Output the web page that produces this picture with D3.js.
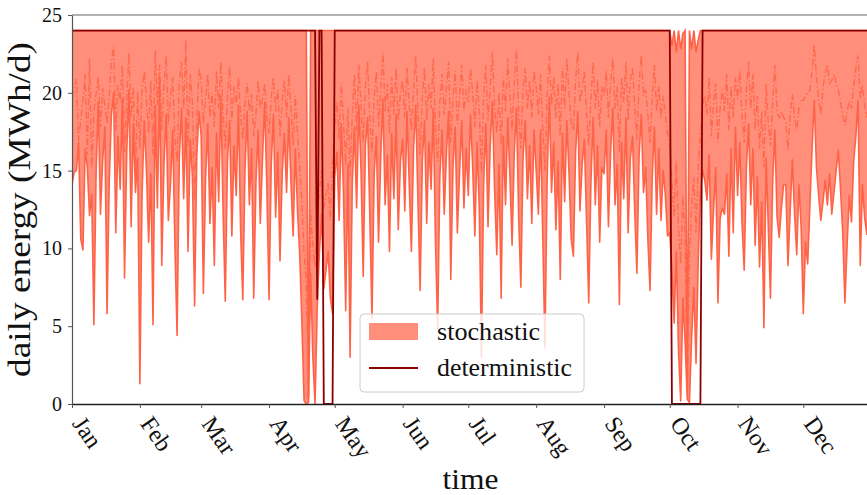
<!DOCTYPE html>
<html>
<head>
<meta charset="utf-8">
<script src="https://cdn.jsdelivr.net/npm/d3@7"></script>
<style>
  body { margin: 0; background: #fff; }
  text { font-family: "Liberation Serif", "Times New Roman", serif; fill: #111; }
</style>
</head>
<body>
<svg id="chart" width="867" height="495"></svg>
<script>
// month ticks
const months = ["Jan", "Feb", "Mar", "Apr", "May", "Jun", "Jul", "Aug", "Sep", "Oct", "Nov", "Dec"];
const monthStart = [0, 31, 59, 90, 120, 151, 181, 212, 243, 273, 304, 334];
const yTicks = [0, 5, 10, 15, 20, 25];

// stochastic: daily minimum over scenarios (MWh/d)
const stochLow = [
  14.1,14.9,15.0,16.8,10.6,9.9,16.4,15.2,12.1,13.5,5.1,14.8,19.4,12.2,15.6,17.8,5.8,14.2,18.6,20.0,11.0,17.2,13.8,19.6,8.1,16.2,20.2,11.4,18.0,13.6,15.8, // Jan
  1.3,13.5,18.2,15.0,10.4,14.8,5.1,19.2,12.6,20.8,8.9,15.4,18.6,11.8,14.2,17.6,10.2,4.4,15.8,19.0,13.2,18.4,9.8,17.0,14.6,6.3,16.0,18.8, // Feb
  17.2,7.1,14.4,18.0,11.6,15.2,8.9,17.4,13.0,19.8,12.4,6.6,15.6,18.2,10.8,16.6,13.4,19.2,11.2,6.7,15.0,18.8,12.8,16.4,6.8,14.2,17.6,11.6,15.8,19.4,13.8, // Mar
  6.7,15.4,18.6,12.0,16.2,9.2,14.8,17.4,13.6,18.4,14.2,10.8,16.4,12.4,9.6,5.2,0.2,0.0,0.1,8.4,3.0,0.0,6.2,9.8,12.2,7.4,8.6,9.8,6.8,5.8, // Apr
  14.6,16.2,11.8,18.0,13.6,6.0,15.4,3.0,14.2,17.8,12.6,19.2,15.0,8.2,16.6,18.4,12.2,5.5,14.8,17.2,10.4,15.8,19.6,12.8,16.0,9.8,17.4,13.2,18.6,11.2,15.6, // May
  17.0,12.4,18.8,14.2,9.8,16.4,19.2,13.0,7.3,15.6,18.2,11.6,16.8,13.8,19.0,10.4,4.8,14.6,17.6,12.2,16.0,18.8,8.0,15.2,17.8,11.0,14.8,18.2,12.6,16.4, // Jun
  13.4,18.6,15.2,10.8,16.8,12.6,3.0,14.2,18.0,11.4,16.6,19.4,13.8,9.6,15.4,6.8,17.2,12.8,18.4,14.6,10.2,16.2,19.0,12.0,7.5,15.8,18.2,13.2,16.6,11.6,17.6, // Jul
  15.0,12.2,17.6,10.8,3.6,14.4,19.7,13.6,16.8,11.2,15.6,8.0,17.4,13.0,18.2,14.8,10.6,9.5,16.2,18.8,12.4,15.4,17.0,11.8,6.5,14.2,18.4,12.8,16.6,10.4,15.2, // Aug
  14.8,17.6,11.4,16.2,19.0,12.8,15.4,6.4,16.8,13.2,18.4,11.0,15.8,17.2,12.4,8.4,16.0,18.6,13.6,15.2,10.6,7.3,14.6,17.8,12.2,16.4,11.8,15.0,13.4,10.8, // Sep
  11.0,8.6,5.2,9.8,3.4,0.2,6.8,4.0,0.3,0.1,4.3,7.5,2.6,9.2,13.6,15.0,14.4,13.1,16.0,9.3,12.4,15.2,6.5,11.9,12.6,12.2,14.8,9.5,16.4,11.0,17.8, // Oct
  13.4,16.8,11.6,8.6,15.2,18.0,12.8,16.4,10.2,14.6,8.8,13.0,4.9,15.8,11.4,6.8,14.2,17.6,12.0,10.7,12.6,14.1,14.1,8.9,12.4,15.7,12.2,9.6,14.1,11.4, // Nov
  5.8,10.4,9.0,12.7,16.4,19.5,15.2,13.4,11.8,13.0,14.4,12.8,14.8,12.2,13.6,15.0,16.3,13.8,11.0,6.5,10.2,13.4,11.7,15.6,17.2,19.5,8.9,14.1,12.0,10.9,13.2  // Dec
];

// stochastic: daily mean over scenarios (dash-dot)
const stochMean = [
  19.7,20.3,20.9,16.9,18.2,19.5,21.2,16.0,22.2,15.2,18.8,19.9,21.0,17.8,20.3,19.2,18.0,19.8,22.0,23.0,17.6,20.5,19.4,21.8,16.2,19.6,22.6,18.4,20.4,14.8,20.1, // Jan
  16.4,20.2,21.4,19.6,17.4,20.8,16.0,22.7,19.2,21.8,17.6,20.4,22.4,18.0,19.8,21.0,17.2,15.6,20.6,22.0,19.0,23.4,16.6,21.2,19.4,13.1,18.2,21.6, // Feb
  20.8,18.0,19.6,21.2,18.4,20.0,17.8,21.4,19.0,22.0,18.6,16.4,19.8,21.7,18.2,20.4,19.2,21.0,18.6,17.0,19.4,20.6,18.8,19.9,17.2,18.6,20.8,19.0,19.6,20.6,18.4, // Mar
  17.4,19.6,21.0,18.8,20.2,17.2,19.4,20.8,18.4,21.2,19.0,16.6,19.8,17.4,15.2,13.0,9.6,8.0,0.3,12.4,10.2,8.8,11.6,13.8,15.0,12.6,13.4,14.2,11.8,15.6, // Apr
  17.8,19.4,17.0,20.6,18.2,15.4,19.0,14.6,18.6,21.2,17.6,21.8,19.2,16.8,20.4,22.0,18.4,16.2,19.6,21.4,17.8,20.2,22.6,18.8,20.6,17.4,21.0,18.6,21.6,18.2,20.0, // May
  20.8,18.4,21.6,19.2,17.6,20.2,22.4,18.8,16.0,19.8,21.6,18.2,20.6,19.0,22.2,17.8,15.6,19.4,21.2,18.6,20.4,22.0,16.8,19.6,21.4,18.0,19.8,21.8,18.8,20.2, // Jun
  19.4,21.6,20.0,17.8,20.8,19.0,14.8,19.6,21.8,18.2,20.4,22.6,19.2,17.4,20.0,16.6,21.0,18.8,22.2,19.8,17.6,20.6,22.8,18.6,16.4,20.2,21.6,19.0,20.8,18.4,21.4, // Jul
  20.4,18.6,21.2,17.8,15.0,19.8,22.4,19.2,21.0,18.4,20.6,17.2,21.6,19.0,22.2,20.0,18.0,17.6,20.8,22.6,19.4,20.2,21.4,18.6,16.6,19.6,22.0,19.0,20.8,17.8,20.4, // Aug
  19.8,21.4,18.4,20.6,22.2,19.0,20.4,16.2,21.0,19.4,22.0,18.2,20.8,21.6,19.2,17.0,20.6,22.4,19.8,20.2,18.6,16.8,19.6,21.8,18.8,20.4,18.4,19.8,18.6,17.4, // Sep
  16.8,14.2,12.0,15.6,11.2,9.0,13.4,10.6,0.6,9.6,12.8,14.6,11.0,15.2,17.4,19.2,19.8,18.6,21.0,17.2,19.4,20.6,16.8,19.0,20.2,18.8,21.2,17.6,20.4,18.4,21.0, // Oct
  19.6,21.4,18.6,16.8,20.2,22.0,19.0,21.2,17.6,19.8,16.4,18.8,15.2,20.6,18.0,16.6,19.4,21.8,18.8,18.4,18.8,18.4,18.2,16.3,18.6,19.9,18.4,17.6,19.0,19.5, // Nov
  19.5,19.8,20.0,20.2,21.4,23.1,21.0,19.6,18.6,20.4,21.2,21.8,20.6,20.8,21.2,20.6,20.2,19.4,18.6,17.9,18.8,19.5,19.0,20.4,21.6,22.4,19.6,20.5,19.2,18.4,19.8  // Dec
];

// stochastic: daily maximum over scenarios
const stochHigh = [
  24,24,24,24,24,24,24,24,24,24,24,24,24,24,24,24,24,24,24,24,24,24,24,24,24,24,24,24,24,24,24, // Jan
  24,24,24,24,24,24,24,24,24,24,24,24,24,24,24,24,24,24,24,24,24,24,24,24,24,24,24,24, // Feb
  24,24,24,24,24,24,24,24,24,24,24,24,24,24,24,24,24,24,24,24,24,24,24,24,24,24,24,24,24,24,24, // Mar
  24,24,24,24,24,24,24,24,24,24,24,24,24,24,24,24,24,24,0.4,24,24,24,24,24,24,24,24,24,24,24, // Apr
  24,24,24,24,24,24,24,24,24,24,24,24,24,24,24,24,24,24,24,24,24,24,24,24,24,24,24,24,24,24,24, // May
  24,24,24,24,24,24,24,24,24,24,24,24,24,24,24,24,24,24,24,24,24,24,24,24,24,24,24,24,24,24, // Jun
  24,24,24,24,24,24,24,24,24,24,24,24,24,24,24,24,24,24,24,24,24,24,24,24,24,24,24,24,24,24,24, // Jul
  24,24,24,24,24,24,24,24,24,24,24,24,24,24,24,24,24,24,24,24,24,24,24,24,24,24,24,24,24,24,24, // Aug
  24,24,24,24,24,24,24,24,24,24,24,24,24,24,24,24,24,24,24,24,24,24,24,24,24,24,24,24,24,24, // Sep
  24,23.0,24,22.6,24,22.8,23.8,24,1.0,24,22.8,24,22.6,23.4,24,24,24,24,24,24,24,24,24,24,24,24,24,24,24,24,24, // Oct
  24,24,24,24,24,24,24,24,24,24,24,24,24,24,24,24,24,24,24,24,24,24,24,24,24,24,24,24,24,24, // Nov
  24,24,24,24,24,24,24,24,24,24,24,24,24,24,24,24,24,24,24,24,24,24,24,24,24,24,24,24,24,24,24  // Dec
];

// deterministic run
const deterministic = [
  24,24,24,24,24,24,24,24,24,24,24,24,24,24,24,24,24,24,24,24,24,24,24,24,24,24,24,24,24,24,24, // Jan
  24,24,24,24,24,24,24,24,24,24,24,24,24,24,24,24,24,24,24,24,24,24,24,24,24,24,24,24, // Feb
  24,24,24,24,24,24,24,24,24,24,24,24,24,24,24,24,24,24,24,24,24,24,24,24,24,24,24,24,24,24,24, // Mar
  24,24,24,24,24,24,24,24,24,24,24,24,24,24,24,24,24,24,24,24,24,24,6.7,24,24,0,0,0,0,0, // Apr
  24,24,24,24,24,24,24,24,24,24,24,24,24,24,24,24,24,24,24,24,24,24,24,24,24,24,24,24,24,24,24, // May
  24,24,24,24,24,24,24,24,24,24,24,24,24,24,24,24,24,24,24,24,24,24,24,24,24,24,24,24,24,24, // Jun
  24,24,24,24,24,24,24,24,24,24,24,24,24,24,24,24,24,24,24,24,24,24,24,24,24,24,24,24,24,24,24, // Jul
  24,24,24,24,24,24,24,24,24,24,24,24,24,24,24,24,24,24,24,24,24,24,24,24,24,24,24,24,24,24,24, // Aug
  24,24,24,24,24,24,24,24,24,24,24,24,24,24,24,24,24,24,24,24,24,24,24,24,24,24,24,24,24,24, // Sep
  24,0,0,0,0,0,0,0,0,0,0,0,0,0,0,24,24,24,24,24,24,24,24,24,24,24,24,24,24,24,24, // Oct
  24,24,24,24,24,24,24,24,24,24,24,24,24,24,24,24,24,24,24,24,24,24,24,24,24,24,24,24,24,24, // Nov
  24,24,24,24,24,24,24,24,24,24,24,24,24,24,24,24,24,24,24,24,24,24,24,24,24,24,24,24,24,24,24  // Dec
];

const svg = d3.select("#chart");
const W = 867;
const mLeft = 72, mRight = 869, mTop = 15, mBottom = 404;

const x = d3.scaleLinear().domain([0, 364]).range([mLeft, mRight]);
const y = d3.scaleLinear().domain([0, 25]).range([mBottom, mTop]);

const tomato = "#ff6347";

svg.append("defs").append("clipPath").attr("id", "plot")
    .append("rect")
    .attr("x", mLeft).attr("y", mTop - 2)
    .attr("width", mRight - mLeft).attr("height", mBottom - mTop + 4);

const plot = svg.append("g").attr("clip-path", "url(#plot)");

// band between min and max
const band = d3.area()
    .x((d, i) => x(i))
    .y0((d, i) => y(stochLow[i]))
    .y1((d, i) => y(stochHigh[i]));

plot.append("path")
    .datum(stochLow)
    .attr("d", band)
    .style("fill", tomato)
    .style("fill-opacity", 0.72);

const line = d3.line().x((d, i) => x(i)).y(d => y(d));

plot.append("path")
    .datum(stochLow)
    .attr("d", line)
    .style("fill", "none")
    .style("stroke", tomato)
    .style("stroke-width", 1.6)
    .style("stroke-linejoin", "round");

plot.append("path")
    .datum(stochHigh)
    .attr("d", line)
    .style("fill", "none")
    .style("stroke", tomato)
    .style("stroke-width", 1.6);

plot.append("path")
    .datum(stochMean)
    .attr("d", line)
    .style("fill", "none")
    .style("stroke", tomato)
    .style("stroke-opacity", 0.85)
    .style("stroke-width", 1.4)
    .style("stroke-dasharray", "7,2.4,1.5,2.4");

plot.append("path")
    .datum(deterministic)
    .attr("d", line)
    .style("fill", "none")
    .style("stroke", "#8b0000")
    .style("stroke-width", 1.8);

// top spine
svg.append("line")
    .attr("x1", mLeft).attr("x2", W).attr("y1", mTop).attr("y2", mTop)
    .style("stroke", "#666").style("stroke-width", 1.1);

// y axis
const yAxis = svg.append("g")
    .attr("transform", `translate(${mLeft},0)`)
    .call(d3.axisLeft(y).tickValues(yTicks).tickSize(4).tickPadding(6).tickSizeOuter(0));
yAxis.select(".domain").style("stroke", "#555").style("stroke-width", 1.2);
yAxis.selectAll(".tick line").style("stroke", "#555");
yAxis.selectAll(".tick text")
    .style("font-size", "20px")
    .style("font-family", "'Liberation Serif', serif")
    .style("fill", "#111");

// x axis
const xAxis = svg.append("g")
    .attr("transform", `translate(0,${mBottom})`)
    .call(d3.axisBottom(x).tickValues(monthStart)
        .tickFormat((d, i) => months[i]).tickSize(4).tickSizeOuter(0));
xAxis.select(".domain").style("stroke", "#222").style("stroke-width", 1.3);
xAxis.selectAll(".tick line").style("stroke", "#555");
xAxis.selectAll(".tick text")
    .attr("x", 0).attr("y", 0).attr("dy", "0.35em")
    .attr("transform", "translate(6,15) rotate(55)")
    .attr("text-anchor", "start")
    .style("font-size", "24px")
    .style("font-family", "'Liberation Serif', serif")
    .style("fill", "#111");

// axis titles
svg.append("text")
    .attr("transform", `translate(30,${(mTop + mBottom) / 2}) rotate(-90)`)
    .attr("text-anchor", "middle")
    .attr("textLength", 335)
    .attr("lengthAdjust", "spacingAndGlyphs")
    .style("font-size", "32px")
    .text("daily energy (MWh/d)");

svg.append("text")
    .attr("x", (mLeft + mRight) / 2)
    .attr("y", 489)
    .attr("text-anchor", "middle")
    .attr("textLength", 56)
    .attr("lengthAdjust", "spacingAndGlyphs")
    .style("font-size", "30px")
    .text("time");

// legend
const legend = svg.append("g").attr("transform", "translate(360,314)");
legend.append("rect")
    .attr("width", 224).attr("height", 78).attr("rx", 4)
    .style("fill", "#fff").style("fill-opacity", 0.8)
    .style("stroke", "#ccc").style("stroke-width", 1);
legend.append("rect")
    .attr("x", 9).attr("y", 9).attr("width", 49).attr("height", 17)
    .style("fill", tomato).style("fill-opacity", 0.72);
legend.append("line")
    .attr("x1", 9).attr("x2", 58).attr("y1", 54).attr("y2", 54)
    .style("stroke", "#8b0000").style("stroke-width", 1.8);
legend.append("text")
    .attr("x", 77).attr("y", 26)
    .attr("textLength", 103)
    .attr("lengthAdjust", "spacingAndGlyphs")
    .style("font-size", "25px")
    .text("stochastic");
legend.append("text")
    .attr("x", 77).attr("y", 62)
    .attr("textLength", 135)
    .attr("lengthAdjust", "spacingAndGlyphs")
    .style("font-size", "25px")
    .text("deterministic");
</script>
</body>
</html>
